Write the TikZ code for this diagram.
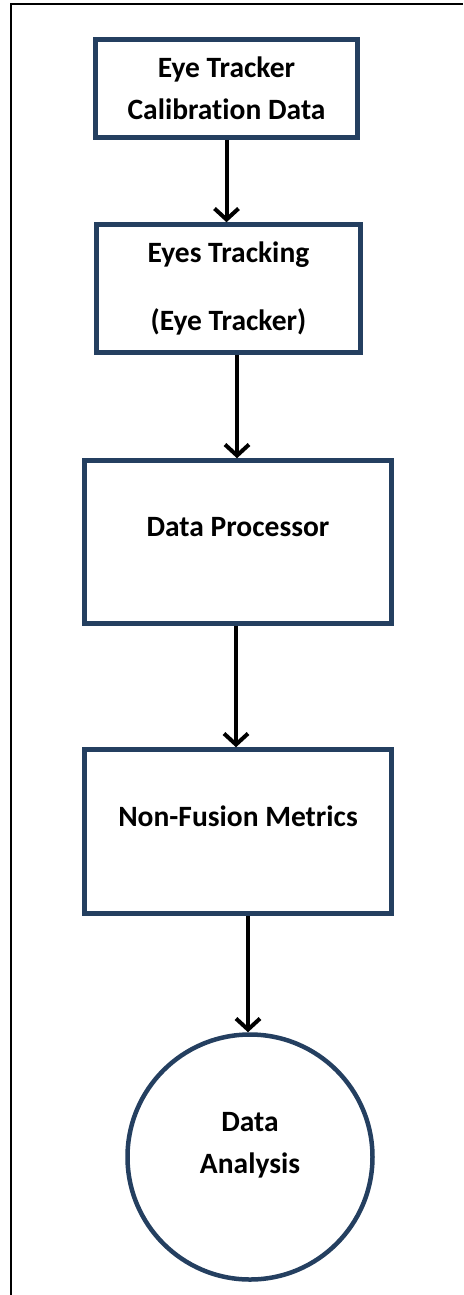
\documentclass[tikz,border=0pt]{standalone}
\usepackage{fontspec}
\setmainfont{Carlito}[Ligatures=NoCommon]
\usetikzlibrary{arrows.meta}
\definecolor{boxblue}{HTML}{243F60}
\tikzset{
  box/.style={draw=boxblue, line width=4.5pt, rectangle, inner sep=0pt, align=center,
    font=\fontsize{29.5}{42}\selectfont\bfseries},
  flow/.style={draw=black, line width=4pt, -{Straight Barb[length=11pt,width=24pt]}}
}
\begin{document}
\begin{tikzpicture}[x=1pt, y=-1pt]
        \useasboundingbox (0, 0) rectangle (463, 1295);
        \draw[line width=1.5pt] (11, 1295) -- (11, 4) -- (463, 4);
        \node[box, minimum width=262pt, minimum height=98pt] (calib) at (226.5, 88.5) {Eye Tracker\\Calibration Data};
        \node[box, minimum width=264pt, minimum height=128pt] (track) at (228.5, 288.5) {Eyes Tracking\\[26pt](Eye Tracker)};
        \node[box, minimum width=307pt, minimum height=163pt, text height=19pt, text depth=30pt] (proc) at (238, 542) {Data Processor};
        \node[box, minimum width=307pt, minimum height=164pt, text height=19pt, text depth=30pt] (metric) at (238, 831.5) {Non-Fusion Metrics};
        \node[box, circle, minimum size=245pt, text height=63pt, text depth=30pt] (anal) at (250, 1157) {Data\\Analysis};
        \draw[flow] (calib.south) -- (calib.south |- track.north);
        \draw[flow] ([xshift=8.5pt]track.south) -- ([xshift=8.5pt]track.south |- proc.north);
        \draw[flow] ([xshift=-2pt]proc.south) -- ([xshift=-2pt]proc.south |- metric.north);
        \draw[flow] ([xshift=10pt]metric.south) -- ([xshift=10pt]metric.south |- anal.north);
\end{tikzpicture}
\end{document}
